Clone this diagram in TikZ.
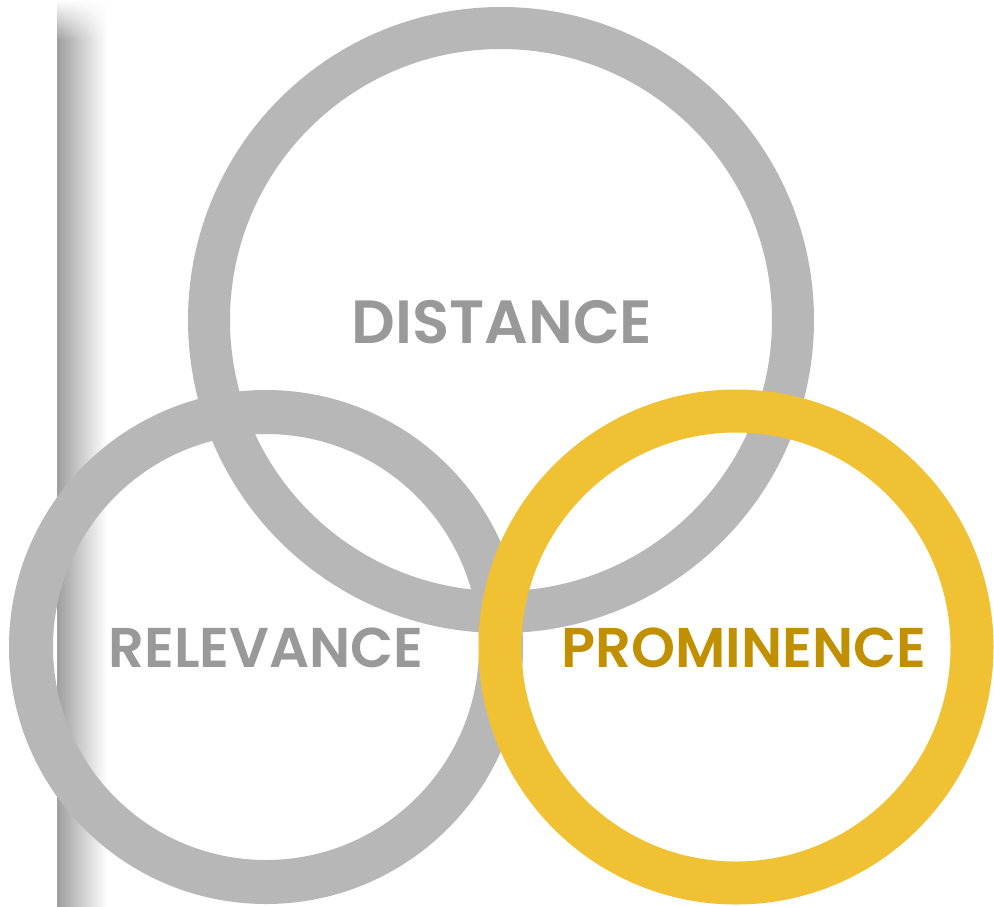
\documentclass[tikz,border=0pt]{standalone}
\usepackage{fontspec}
\setmainfont{Poppins}[BoldFont={Poppins SemiBold}]
\usetikzlibrary{fadings}
\definecolor{ringgray}{HTML}{B7B7B7}
\definecolor{txtgray}{HTML}{999999}
\definecolor{ringgold}{HTML}{F0C233}
\definecolor{txtgold}{HTML}{C09000}
\tikzfading[name=topfade, top color=transparent!100, bottom color=transparent!0]
\tikzset{
  ringg/.style={draw=ringgray},
  ringy/.style={draw=ringgold},
  lbl/.style={font=\bfseries\fontsize{61}{63}\selectfont, inner sep=0pt, anchor=base}
}
\begin{document}
\begin{tikzpicture}[x=1pt,y=-1pt]
\useasboundingbox (0,0) rectangle (994,906);
\fill[white] (0,0) rectangle (994,906);
% left shadow band
\shade[left color=black!38, right color=white] (57,40) rectangle (107,906);
\shade[left color=black!38, right color=white, path fading=topfade] (57,0) rectangle (107,40);
% gray rings
\draw[ringg, line width=42] (501,320) circle[radius=292];
\draw[ringg, line width=44] (266,647) circle[radius=235];
% labels
\node[lbl, text=txtgray] (dist) at (502,343) {DISTANCE};
\node[lbl, text=txtgray, font=\bfseries\fontsize{56}{58}\selectfont] (rel) at (266,667) {RELEVANCE};
\node[lbl, text=txtgold, font=\bfseries\fontsize{56}{58}\selectfont] (prom) at (744,667) {PROMINENCE};
% gold ring
\draw[ringy, line width=43] (736,647) circle[radius=236];
\end{tikzpicture}
\end{document}
